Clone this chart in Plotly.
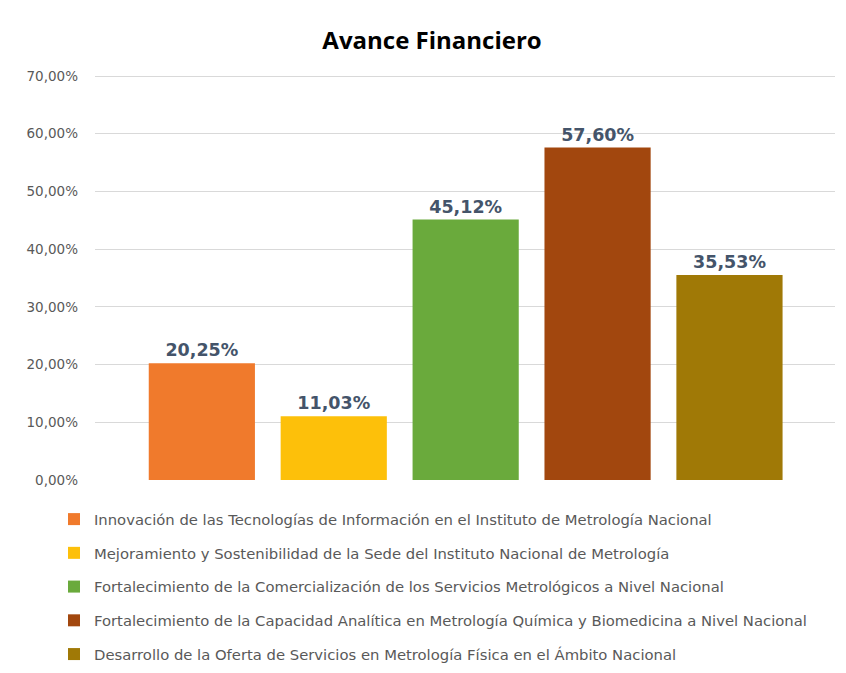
# Avance Financiero - bar chart of financial progress by project
import plotly.graph_objects as go

# --- data ---
proyectos = [
    "Innovación de las Tecnologías de Información en el Instituto de Metrología Nacional",
    "Mejoramiento y Sostenibilidad de la Sede del Instituto Nacional de Metrología",
    "Fortalecimiento de la Comercialización de los Servicios Metrológicos a Nivel Nacional",
    "Fortalecimiento de la Capacidad Analítica en Metrología Química y Biomedicina a Nivel Nacional",
    "Desarrollo de la Oferta de Servicios en Metrología Física en el Ámbito Nacional",
]
avance = [0.2025, 0.1103, 0.4512, 0.5760, 0.3553]
colores = ["#F07A2C", "#FDC00A", "#6AAA3C", "#A2470E", "#A07906"]

y_ticks = [0, 0.1, 0.2, 0.3, 0.4, 0.5, 0.6, 0.7]

fig = go.Figure()

# one trace per project so each gets its own legend entry
for i, (nombre, valor, color) in enumerate(zip(proyectos, avance, colores)):
    fig.add_trace(go.Bar(
        x=[i],
        y=[valor],
        name=nombre,
        legendgroup=f"g{i}",
        marker=dict(color=color, line=dict(width=0)),
        width=0.805,
        texttemplate="%{y:.2%}",
        textposition="outside",
        textfont=dict(family="DejaVu Sans", size=17.5, color="#44546A", weight="bold"),
        cliponaxis=False,
    ))

# the page adds an 8px body margin, so the figure is a bit smaller than the window
fig.update_layout(
    width=838,
    height=657,
    barmode="overlay",
    separators=",.",
    paper_bgcolor="white",
    plot_bgcolor="white",
    margin=dict(l=87, r=11, t=66, b=185),
    title=dict(
        text="<b>Avance Financiero</b>",
        x=0.506, xanchor="center",
        y=0.951, yanchor="middle",
        font=dict(family="Open Sans", size=24, color="#000000"),
    ),
    font=dict(family="DejaVu Sans", color="#595959"),
    showlegend=True,
    legend=dict(
        orientation="v",
        xref="paper", x=-0.0554, xanchor="left",
        yref="container", y=0.2466, yanchor="top",
        font=dict(family="DejaVu Sans", size=14.8, color="#595959"),
        tracegroupgap=11.5,
        itemwidth=30,
        bgcolor="rgba(0,0,0,0)",
    ),
    xaxis=dict(
        range=[-0.81, 4.80],
        showticklabels=False,
        showgrid=False,
        zeroline=False,
        showline=False,
        ticks="",
    ),
    yaxis=dict(
        # a couple of pixels of headroom so the 70% gridline is still drawn
        range=[0, 0.7035],
        tickvals=y_ticks,
        tickformat=".2%",
        tickfont=dict(family="DejaVu Sans", size=13.5, color="#595959"),
        gridcolor="#D9D9D9",
        gridwidth=1,
        zeroline=False,
        showline=False,
        ticks="",
        ticklabelstandoff=16,
    ),
)

fig.write_html("out.html")
